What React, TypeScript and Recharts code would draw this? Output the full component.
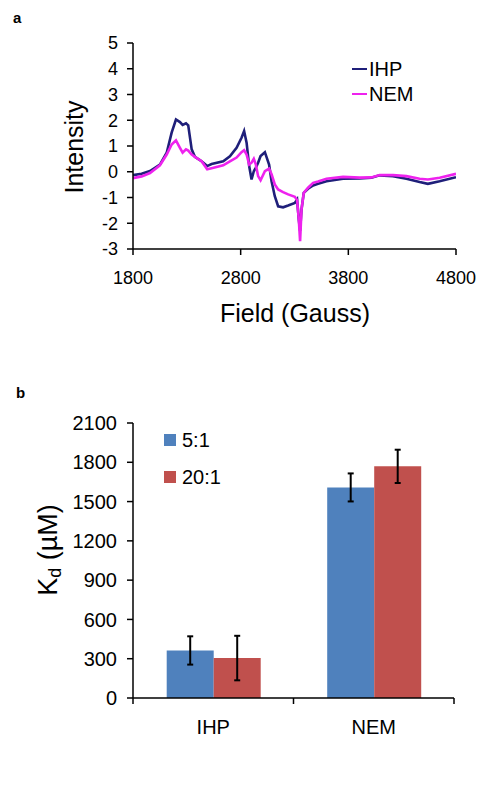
import React from 'react';
import { LineChart, Line, XAxis, YAxis, Legend, BarChart, Bar, ErrorBar } from 'recharts';

// ---------- Panel a: EPR spectra ----------
const fieldGauss = [
  1800, 1880, 1958, 2050, 2113, 2159, 2199, 2236, 2261, 2292, 2313, 2345, 2375, 2437, 2489, 2530,
  2638, 2700, 2762, 2808, 2832, 2855, 2879, 2901, 2922, 2941, 2962, 2985, 3025, 3064, 3087, 3117,
  3148, 3194, 3241, 3303, 3324, 3340, 3352, 3365, 3386, 3426, 3473, 3519, 3597, 3751, 3906, 4014,
  4091, 4215, 4339, 4462, 4539, 4648, 4800,
];
const ihpIntensity = [
  -0.13, -0.08, 0.03, 0.28, 0.74, 1.52, 2.03, 1.93, 1.82, 1.88, 1.8, 0.87, 0.58, 0.41, 0.22, 0.3,
  0.41, 0.6, 0.93, 1.32, 1.58, 1.13, 0.22, -0.3, 0.02, 0.16, 0.35, 0.61, 0.76, 0.28, -0.37, -0.95,
  -1.34, -1.38, -1.31, -1.21, -1.08, -1.86, -2.3, -1.47, -0.82, -0.66, -0.53, -0.47, -0.37, -0.27, -0.26, -0.23,
  -0.14, -0.17, -0.27, -0.4, -0.47, -0.37, -0.21,
];
const nemIntensity = [
  -0.25, -0.18, -0.05, 0.25, 0.67, 1.06, 1.22, 0.93, 0.74, 0.87, 0.82, 0.67, 0.58, 0.41, 0.1, 0.14,
  0.25, 0.4, 0.55, 0.76, 0.84, 0.67, 0.28, 0.35, 0.5, 0.28, -0.17, -0.33, 0.02, 0.12, -0.1, -0.49,
  -0.69, -0.79, -0.88, -0.97, -1.1, -1.86, -2.7, -1.47, -0.82, -0.62, -0.43, -0.38, -0.27, -0.2, -0.23, -0.22,
  -0.13, -0.13, -0.17, -0.27, -0.3, -0.23, -0.08,
];
const fieldTicks = [1800, 2800, 3800, 4800];
const intensityTicks = [-3, -2, -1, 0, 1, 2, 3, 4, 5];
const spectrumNames = ['IHP', 'NEM'];

// ---------- Panel b: Kd bars ----------
const kdCategories = ['IHP', 'NEM'];
const kd5to1 = [363, 1608];
const kd5to1Err = [108, 107];
const kd20to1 = [305, 1769];
const kd20to1Err = [170, 127];
const kdTicks = [0, 300, 600, 900, 1200, 1500, 1800, 2100];
const ratioNames = ['5:1', '20:1'];

const FONT = '"Liberation Sans", Arial, Helvetica, sans-serif';
const IHP_COLOR = '#1f1f7a';
const NEM_COLOR = '#ee22ee';
const BLUE = '#4f81bd';
const RED = '#c0504d';

const spectrumData = fieldGauss.map((g, i) => ({ field: g, ihp: ihpIntensity[i], nem: nemIntensity[i] }));
const kdData = kdCategories.map((c, i) => ({
  category: c,
  r5: kd5to1[i],
  r5e: kd5to1Err[i],
  r20: kd20to1[i],
  r20e: kd20to1Err[i],
}));

const LegendA = () => (
  <div style={{ fontFamily: FONT, fontSize: 20, color: '#000' }}>
    {[
      { name: spectrumNames[0], color: IHP_COLOR },
      { name: spectrumNames[1], color: NEM_COLOR },
    ].map((e) => (
      <div key={e.name} style={{ display: 'flex', alignItems: 'center', height: 25 }}>
        <span style={{ display: 'inline-block', width: 15, height: 2, background: e.color, marginRight: 2 }} />
        <span>{e.name}</span>
      </div>
    ))}
  </div>
);

const LegendB = () => (
  <div style={{ fontFamily: FONT, fontSize: 20, color: '#000' }}>
    {[
      { name: ratioNames[0], color: BLUE },
      { name: ratioNames[1], color: RED },
    ].map((e) => (
      <div key={e.name} style={{ display: 'flex', alignItems: 'center', height: 36.7 }}>
        <span style={{ display: 'inline-block', width: 12, height: 12, background: e.color, marginRight: 6 }} />
        <span>{e.name}</span>
      </div>
    ))}
  </div>
);

// Category tick: label centred on the band, tick marks at band boundaries (Excel style)
const CategoryTick = (props: any) => {
  const { x, y, payload, index } = props;
  const half = payload && typeof payload.offset === 'number' && payload.offset > 0 ? payload.offset : 80;
  return (
    <g>
      {index === 0 && <line x1={x - half} y1={y} x2={x - half} y2={y + 6} stroke="#000" strokeWidth={1.5} />}
      <line x1={x + half} y1={y} x2={x + half} y2={y + 6} stroke="#000" strokeWidth={1.5} />
      <text x={x} y={y + 22} dy="0.71em" textAnchor="middle" fill="#000" fontSize={20} fontFamily={FONT}>
        {payload.value}
      </text>
    </g>
  );
};

export default function App() {
  const tickStyleA = { fill: '#000', fontSize: 18, fontFamily: FONT };
  const tickStyleB = { fill: '#000', fontSize: 20, fontFamily: FONT };
  return (
    <div style={{ position: 'absolute', left: 0, top: 0, width: 487, height: 788, background: '#fff' }}>
      <div style={{ position: 'absolute', left: 0, top: 0 }}>
        <LineChart width={487} height={340} data={spectrumData} margin={{ top: 43, right: 31, left: 0, bottom: 0 }}>
          <XAxis
            dataKey="field"
            type="number"
            domain={[1800, 4800]}
            ticks={fieldTicks}
            interval={0}
            allowDataOverflow
            height={91}
            tickSize={6}
            tickMargin={16}
            stroke="#000"
            axisLine={{ stroke: '#000', strokeWidth: 1.5 }}
            tickLine={{ stroke: '#000', strokeWidth: 1.5 }}
            tick={tickStyleA}
          />
          <YAxis
            type="number"
            domain={[-3, 5]}
            ticks={intensityTicks}
            interval={0}
            allowDataOverflow
            width={133}
            tickSize={6}
            tickMargin={9}
            stroke="#000"
            axisLine={{ stroke: '#000', strokeWidth: 1.5 }}
            tickLine={{ stroke: '#000', strokeWidth: 1.5 }}
            tick={tickStyleA}
          />
          <Legend
            layout="vertical"
            align="center"
            verticalAlign="middle"
            content={() => <LegendA />}
            wrapperStyle={{ position: 'absolute', left: 352, top: 56.5, width: 'auto', height: 'auto' }}
          />
          <Line type="linear" dataKey="ihp" name="IHP" stroke={IHP_COLOR} strokeWidth={2.6} dot={false} isAnimationActive={false} />
          <Line type="linear" dataKey="nem" name="NEM" stroke={NEM_COLOR} strokeWidth={2.6} dot={false} isAnimationActive={false} />
        </LineChart>
      </div>

      <div style={{ position: 'absolute', left: 0, top: 340 }}>
        <BarChart
          width={487}
          height={448}
          data={kdData}
          margin={{ top: 83, right: 33, left: 0, bottom: 0 }}
          barCategoryGap="21%"
          barGap={0}
        >
          <XAxis
            dataKey="category"
            height={90}
            interval={0}
            stroke="#000"
            axisLine={{ stroke: '#000', strokeWidth: 1.5 }}
            tickLine={false}
            tickSize={0}
            tickMargin={0}
            tick={<CategoryTick />}
          />
          <YAxis
            type="number"
            domain={[0, 2100]}
            ticks={kdTicks}
            interval={0}
            allowDataOverflow
            width={133}
            tickSize={6}
            tickMargin={10}
            stroke="#000"
            axisLine={{ stroke: '#000', strokeWidth: 1.5 }}
            tickLine={{ stroke: '#000', strokeWidth: 1.5 }}
            tick={tickStyleB}
          />
          <Legend
            layout="vertical"
            align="center"
            verticalAlign="middle"
            content={() => <LegendB />}
            wrapperStyle={{ position: 'absolute', left: 164, top: 82, width: 'auto', height: 'auto' }}
          />
          <Bar dataKey="r5" name="5:1" fill={BLUE} isAnimationActive={false}>
            <ErrorBar dataKey="r5e" direction="y" width={3} stroke="#000" strokeWidth={2} />
          </Bar>
          <Bar dataKey="r20" name="20:1" fill={RED} isAnimationActive={false}>
            <ErrorBar dataKey="r20e" direction="y" width={3} stroke="#000" strokeWidth={2} />
          </Bar>
        </BarChart>
      </div>

      <svg
        width={487}
        height={788}
        style={{ position: 'absolute', left: 0, top: 0, pointerEvents: 'none' }}
        fontFamily={FONT}
      >
        <text x={13} y={23} fontSize={15} fontWeight="bold" fill="#000">a</text>
        <text x={16} y={398} fontSize={15} fontWeight="bold" fill="#000">b</text>
        <text
          x={74}
          y={147}
          fontSize={25}
          fill="#000"
          textAnchor="middle"
          dominantBaseline="central"
          transform="rotate(-90, 74, 147)"
        >
          Intensity
        </text>
        <text x={295} y={322} fontSize={25} fill="#000" textAnchor="middle">
          Field (Gauss)
        </text>
        <text
          x={48}
          y={550}
          fontSize={27}
          fill="#000"
          textAnchor="middle"
          dominantBaseline="central"
          transform="rotate(-90, 48, 550)"
        >
          K<tspan fontSize={18} dy={7}>d</tspan>
          <tspan dy={-7}> (µM)</tspan>
        </text>
      </svg>
    </div>
  );
}
